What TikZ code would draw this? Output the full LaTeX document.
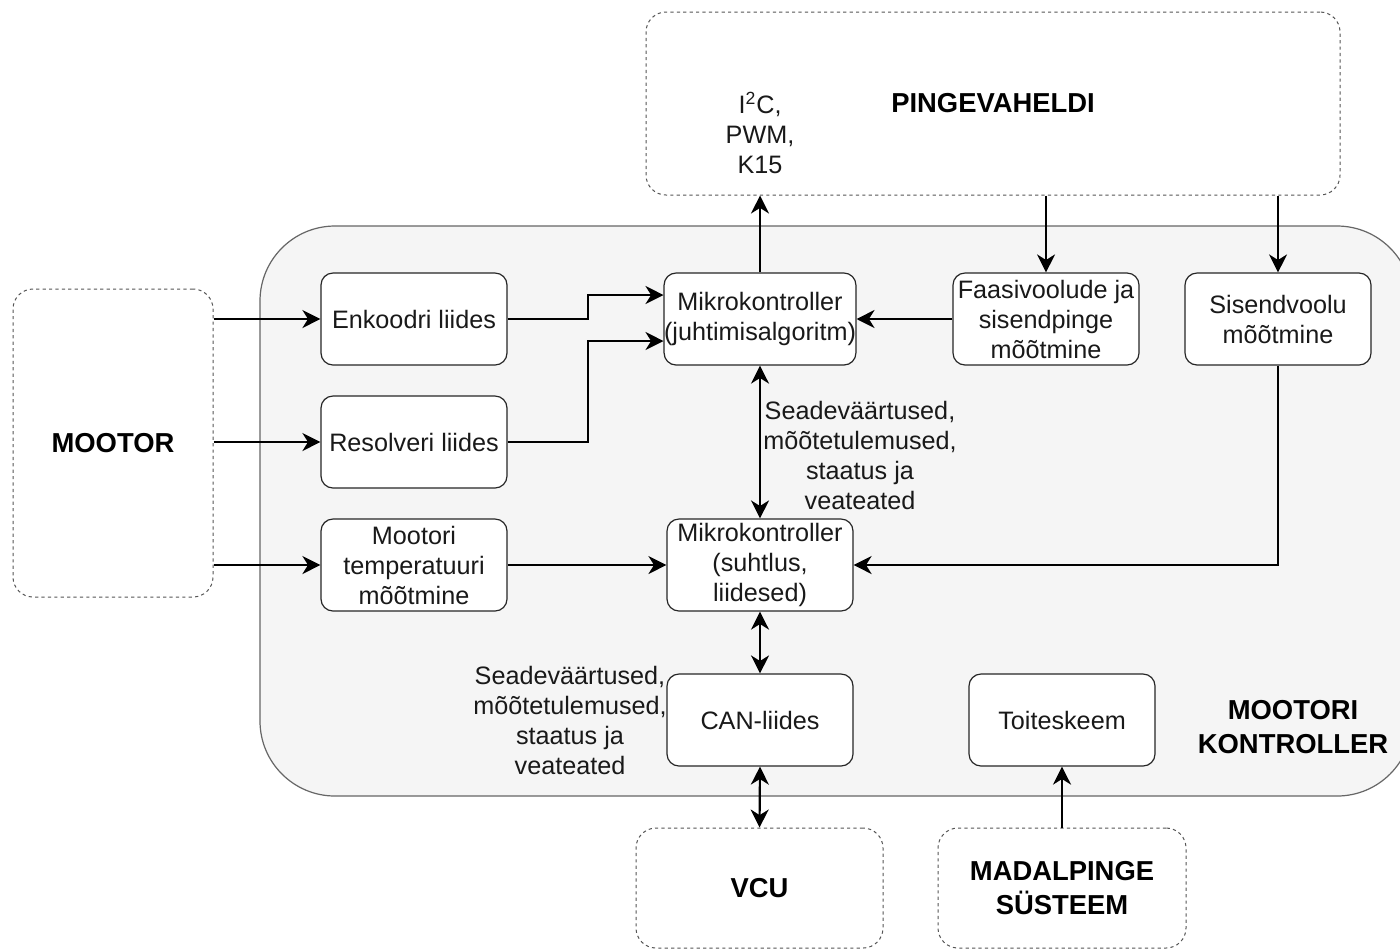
\documentclass[tikz,border=0pt]{standalone}
\usepackage{fontspec}
\setmainfont{Liberation Sans}
\usetikzlibrary{arrows.meta}
\definecolor{panel}{HTML}{F5F5F5}
\definecolor{panelline}{HTML}{666666}
\definecolor{dashline}{HTML}{555555}
\begin{document}
\begin{tikzpicture}[x=0.5pt,y=-0.5pt,
  every node/.style={font=\fontsize{12.6}{15}\selectfont, align=center, inner sep=0pt, text=black!90},
  blk/.style={draw=black!85, line width=0.6pt, fill=white, rounded corners=6pt,
              minimum width=93pt, minimum height=46pt},
  ext/.style={draw=dashline, line width=0.5pt, dash pattern=on 1.6pt off 1.6pt,
              rounded corners=10pt, font=\fontsize{13.7}{17}\selectfont\bfseries, text=black},
  ttl/.style={font=\fontsize{13.7}{17}\selectfont\bfseries, text=black},
  tip/.tip={Stealth[length=9pt,width=9pt,inset=2.8pt]},
  arr/.style={line width=1.1pt, -tip},
  darr/.style={line width=1.1pt, tip-tip}
]
\clip (0,0) rectangle (1400,950);
\fill[white] (0,0) rectangle (1400,950);

% controller enclosure
\node[draw=panelline, fill=panel, line width=0.6pt, rounded corners=37.5pt,
      minimum width=576pt, minimum height=285pt] (ctl) at (836,511) {};
\node[ttl] (ctltitle) at (1293,727) {MOOTORI\\KONTROLLER};

% external systems
\node[ext, minimum width=347pt, minimum height=91.5pt] (inv) at (993,103.5) {PINGEVAHELDI};
\node[ext, minimum width=100pt, minimum height=154pt] (mot) at (113,443) {MOOTOR};
\node[ext, minimum width=123.5pt, minimum height=60pt] (vcu) at (759.5,888) {VCU};
\node[ext, minimum width=124pt, minimum height=60pt] (lv) at (1062,888) {MADALPINGE\\SÜSTEEM};

% inner blocks
\node[blk] (enc) at (414,319) {Enkoodri liides};
\node[blk] (res) at (414,442) {Resolveri liides};
\node[blk] (tmp) at (414,565) {Mootori\\temperatuuri\\mõõtmine};
\node[blk] (mcu1) at (760,319) {Mikrokontroller\\(juhtimisalgoritm)};
\node[blk] (pha) at (1046,319) {Faasivoolude ja\\sisendpinge\\mõõtmine};
\node[blk] (cur) at (1278,319) {Sisendvoolu\\mõõtmine};
\node[blk] (mcu2) at (760,565) {Mikrokontroller\\(suhtlus,\\liidesed)};
\node[blk] (can) at (760,720) {CAN-liides};
\node[blk] (pwr) at (1062,720) {Toiteskeem};

% text labels
\node (bus) at (760,133) {I\textsuperscript{2}C,\\PWM,\\K15};
\node (msgA) at (860,455) {Seadeväärtused,\\mõõtetulemused,\\staatus ja\\veateated};
\node (msgB) at (570,720) {Seadeväärtused,\\mõõtetulemused,\\staatus ja\\veateated};

% motor signals
\draw[arr] (mot.east |- enc.west) -- (enc.west);
\draw[arr] (mot.east |- res.west) -- (res.west);
\draw[arr] (mot.east |- tmp.west) -- (tmp.west);
\draw[arr] (enc.east) -- ++(80,0) |- ([yshift=12pt]mcu1.west);
\draw[arr] (res.east) -- ++(80,0) |- ([yshift=-11pt]mcu1.west);
\draw[arr] (tmp.east) -- (mcu2.west);

% inverter links
\draw[arr] (mcu1.north) -- (mcu1.north |- inv.south);
\draw[arr] (inv.south -| pha.north) -- (pha.north);
\draw[arr] (inv.south -| cur.north) -- (cur.north);
\draw[arr] (pha.west) -- (mcu1.east);
\draw[arr] (cur.south) |- (mcu2.east);

% communication chain
\draw[darr] (mcu1.south) -- (mcu2.north);
\draw[darr] (mcu2.south) -- (can.north);
\draw[darr] (can.south) -- (vcu.north);

% supply
\draw[arr] (lv.north) -- (pwr.south);
\end{tikzpicture}
\end{document}
